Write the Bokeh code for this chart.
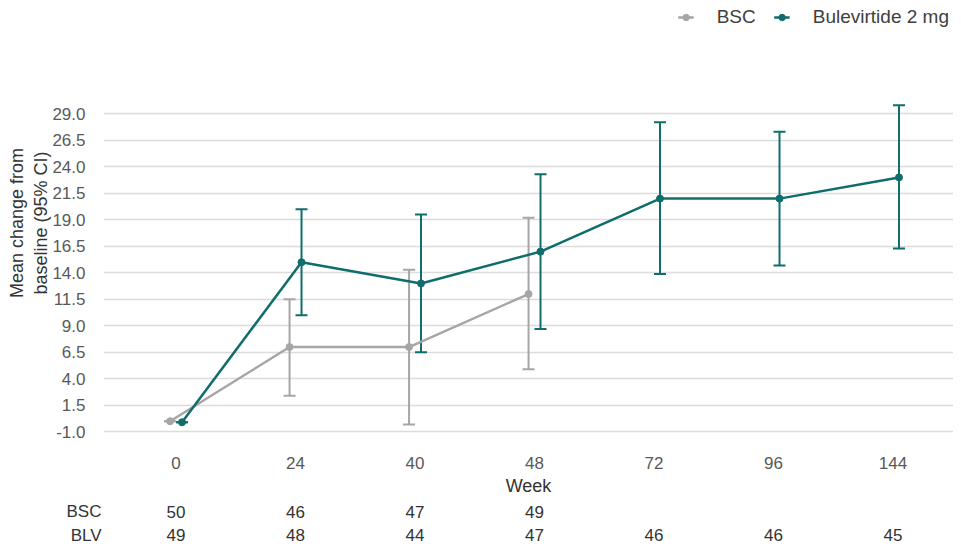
from bokeh.plotting import figure
from bokeh.models import (ColumnDataSource, Range1d, FixedTicker, Whisker, TeeHead,
                          Legend, LegendItem, NumeralTickFormatter)
from bokeh.layouts import column
from bokeh.transform import dodge
from bokeh.core.properties import value
from bokeh.embed import file_html
from bokeh.resources import INLINE

# ---- data ----
weeks = ["0", "24", "40", "48", "72", "96", "144"]
bsc_mean = [0.0, 7.0, 7.0, 12.0]
bsc_lower = [0.0, 2.4, -0.3, 4.9]
bsc_upper = [0.0, 11.5, 14.3, 19.2]
blv_mean = [-0.1, 15.0, 13.0, 16.0, 21.0, 21.0, 23.0]
blv_lower = [-0.1, 10.0, 6.5, 8.7, 13.9, 14.7, 16.3]
blv_upper = [-0.1, 20.0, 19.5, 23.3, 28.2, 27.3, 29.8]
bsc_n = [50, 46, 47, 49]
blv_n = [49, 48, 44, 47, 46, 46, 45]
row_labels = ["BSC", "BLV"]
y_ticks = [-1.0, 1.5, 4.0, 6.5, 9.0, 11.5, 14.0, 16.5, 19.0, 21.5, 24.0, 26.5, 29.0]
series_names = ["BSC", "Bulevirtide 2 mg"]

GRAY = "#a6a6a6"
TEAL = "#0f6d6c"
FONT = "Liberation Sans"

bsc_src = ColumnDataSource(dict(x=list(range(len(bsc_mean))), y=bsc_mean,
                                lower=bsc_lower, upper=bsc_upper))
blv_src = ColumnDataSource(dict(x=list(range(len(blv_mean))), y=blv_mean,
                                lower=blv_lower, upper=blv_upper))

xr = Range1d(-0.607, 6.506)
p = figure(width=953, height=498, output_backend="svg", toolbar_location=None,
           x_range=xr, y_range=Range1d(-2.29, 39.69),
           min_border_left=103, min_border_right=0, min_border_top=0, min_border_bottom=53)
p.outline_line_color = None
p.background_fill_color = "white"
p.xgrid.visible = False
p.ygrid.ticker = FixedTicker(ticks=y_ticks)
p.ygrid.grid_line_color = "#dcdcdc"
p.ygrid.grid_line_width = 1.3

# x axis
p.xaxis.ticker = FixedTicker(ticks=list(range(len(weeks))))
p.xaxis.major_label_overrides = {i: w for i, w in enumerate(weeks)}
p.xaxis.axis_label = "Week"
p.xaxis.axis_label_text_font = FONT
p.xaxis.axis_label_text_font_style = "normal"
p.xaxis.axis_label_text_font_size = "18px"
p.xaxis.axis_label_text_color = "#333333"
p.xaxis.axis_label_standoff = 4
p.xaxis.major_label_standoff = 5

# y axis
p.yaxis.ticker = FixedTicker(ticks=y_ticks)
p.yaxis.formatter = NumeralTickFormatter(format="0.0")
p.yaxis.axis_label = "Mean change from\nbaseline (95% CI)"
p.yaxis.axis_label_text_font = FONT
p.yaxis.axis_label_text_font_style = "normal"
p.yaxis.axis_label_text_font_size = "18px"
p.yaxis.axis_label_text_color = "#333333"
p.yaxis.axis_label_standoff = -2
p.yaxis.major_label_standoff = 12

for ax in (p.xaxis, p.yaxis):
    ax.axis_line_color = None
    ax.major_tick_line_color = None
    ax.minor_tick_line_color = None
    ax.major_label_text_font = FONT
    ax.major_label_text_font_size = "17px"
    ax.major_label_text_color = "#595959"

# error bars
def add_whisker(src, color, off):
    w = Whisker(base=dodge("x", off), upper="upper", lower="lower", source=src,
                line_color=color, line_width=2,
                upper_head=TeeHead(size=12, line_color=color, line_width=2),
                lower_head=TeeHead(size=12, line_color=color, line_width=2))
    p.add_layout(w)

add_whisker(bsc_src, GRAY, -0.05)
add_whisker(blv_src, TEAL, 0.05)

l1 = p.line(x=dodge("x", -0.05), y="y", source=bsc_src, line_color=GRAY, line_width=2.5)
s1 = p.scatter(x=dodge("x", -0.05), y="y", source=bsc_src, size=7, marker="circle",
               fill_color=GRAY, line_color=GRAY)
l2 = p.line(x=dodge("x", 0.05), y="y", source=blv_src, line_color=TEAL, line_width=2.5)
s2 = p.scatter(x=dodge("x", 0.05), y="y", source=blv_src, size=7, marker="circle",
               fill_color=TEAL, line_color=TEAL)

legend = Legend(items=[LegendItem(label=series_names[0], renderers=[l1, s1]),
                       LegendItem(label=series_names[1], renderers=[l2, s2])],
                orientation="horizontal", location="top_right",
                border_line_color=None, background_fill_alpha=0,
                padding=4, margin=4, glyph_width=16, glyph_height=26,
                label_standoff=23, spacing=18,
                label_text_font=FONT, label_text_font_size="19px",
                label_text_color="#404040")
p.add_layout(legend)

# ---- number-at-risk table ----
t = figure(width=953, height=47, output_backend="svg", toolbar_location=None,
           x_range=xr, y_range=Range1d(1.417, -0.542),
           min_border_left=103, min_border_right=0, min_border_top=0, min_border_bottom=0)
t.xaxis.visible = False
t.grid.visible = False
t.outline_line_color = None
t.yaxis.ticker = FixedTicker(ticks=[0, 1])
t.yaxis.major_label_overrides = {0: row_labels[0], 1: row_labels[1]}
t.yaxis.axis_line_color = None
t.yaxis.major_tick_line_color = None
t.yaxis.minor_tick_line_color = None
t.yaxis.major_label_standoff = -4
t.yaxis.major_label_text_font = FONT
t.yaxis.major_label_text_font_size = "17px"
t.yaxis.major_label_text_color = "#333333"

tsrc_bsc = ColumnDataSource(dict(x=list(range(len(bsc_n))), y=[0] * len(bsc_n),
                                 text=[str(v) for v in bsc_n]))
tsrc_blv = ColumnDataSource(dict(x=list(range(len(blv_n))), y=[1] * len(blv_n),
                                 text=[str(v) for v in blv_n]))
for src in (tsrc_bsc, tsrc_blv):
    t.text(x="x", y="y", text="text", source=src, text_align="center",
           text_baseline="middle", text_font=value(FONT), text_font_size="17px",
           text_color="#333333")

layout = column(p, t, spacing=0)
open("out.html", "w").write(file_html(layout, INLINE))
